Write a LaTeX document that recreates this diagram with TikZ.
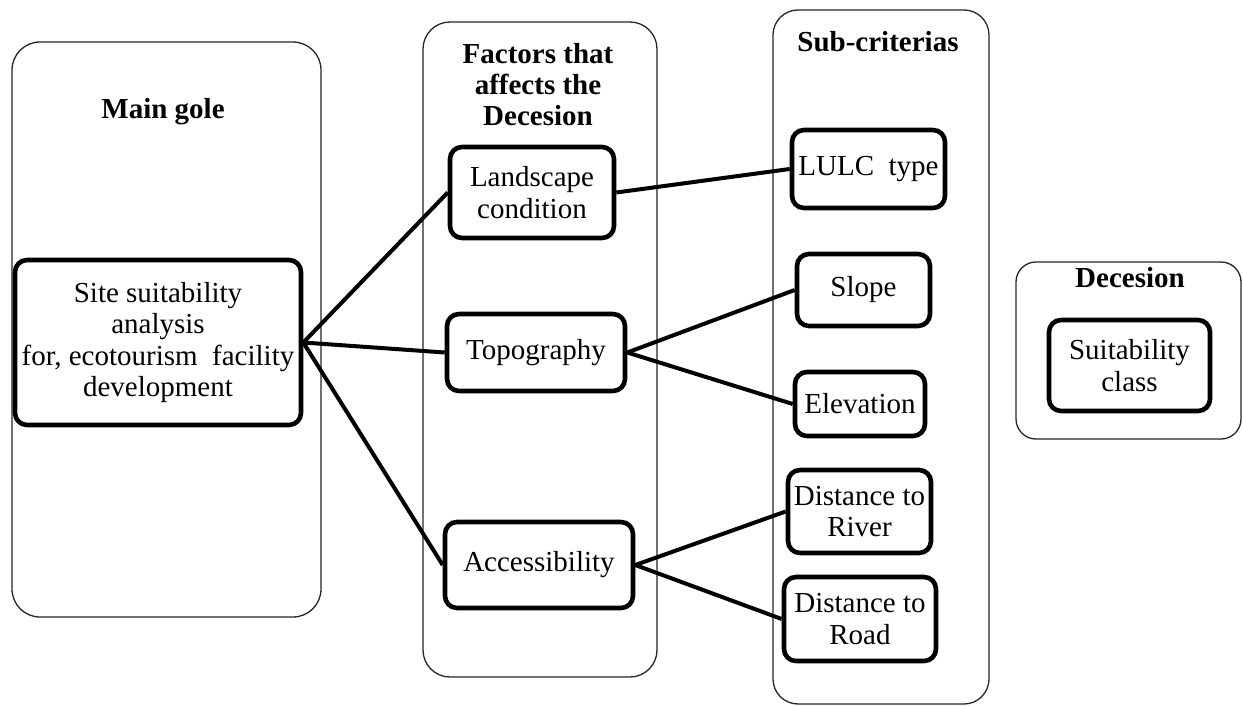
\documentclass[tikz,border=0pt]{standalone}
\usepackage{fontspec}
\setmainfont{Liberation Serif}
\begin{document}
\begin{tikzpicture}[x=1pt,y=-1pt,
  col/.style={draw=black!85, line width=1.3pt, inner sep=0pt},
  inbox/.style={draw, line width=4.6pt, rounded corners=12pt, align=center, inner sep=0pt, font=\fontsize{29}{31.5}\selectfont},
  head/.style={align=center, inner sep=0pt, font=\bfseries\fontsize{29}{31}\selectfont},
  link/.style={line width=4pt}]
\useasboundingbox (0,0) rectangle (1243,706);
\fill[white] (0,0) rectangle (1243,706);
% column containers
\node[col, rounded corners=28pt, minimum width=309pt, minimum height=575pt] (maincol) at (166.5,329.5) {};
\node[col, rounded corners=27pt, minimum width=234pt, minimum height=655pt] (faccol) at (540,349.5) {};
\node[col, rounded corners=25pt, minimum width=216pt, minimum height=694pt] (subcol) at (881,357) {};
\node[col, rounded corners=20pt, minimum width=225pt, minimum height=177pt] (deccol) at (1128.5,350.5) {};
% headings
\node[head] (hmain) at (163,112) {Main gole};
\node[head] (hfac) at (538,85) {Factors that\\affects the\\Decesion};
\node[head] (hsub) at (878,42) {Sub-criterias};
\node[head] (hdec) at (1130,278) {Decesion};
% boxes
\node[inbox, minimum width=286pt, minimum height=165pt] (site) at (158,342.5) {Site suitability\\analysis\\for, ecotourism~ facility\\development};
\node[inbox, minimum width=164pt, minimum height=91pt] (land) at (532,192.5) {Landscape\\condition};
\node[inbox, minimum width=178pt, minimum height=77pt] (topo) at (536,352.5) {Topography};
\node[inbox, minimum width=188pt, minimum height=86pt] (acc) at (539,565) {Accessibility};
\node[inbox, minimum width=153pt, minimum height=78pt] (lulc) at (868.5,169) {LULC~ type};
\node[inbox, minimum width=133pt, minimum height=72pt] (slope) at (863.5,290) {Slope};
\node[inbox, minimum width=130pt, minimum height=64pt] (elev) at (860,404) {Elevation};
\node[inbox, minimum width=143pt, minimum height=83pt] (river) at (859.5,511.5) {Distance to\\River};
\node[inbox, minimum width=152pt, minimum height=84pt] (road) at (860,619) {Distance to\\Road};
\node[inbox, minimum width=161pt, minimum height=91pt] (suit) at (1129.5,365.5) {Suitability\\class};
% connectors
\draw[link] (site.east) -- (land.west);
\draw[link] (site.east) -- (topo.west);
\draw[link] (site.east) -- (acc.west);
\draw[link] (land.east) -- (lulc.west);
\draw[link] (topo.east) -- (slope.west);
\draw[link] (topo.east) -- (elev.west);
\draw[link] (acc.east) -- (river.west);
\draw[link] (acc.east) -- (road.west);
\end{tikzpicture}
\end{document}
